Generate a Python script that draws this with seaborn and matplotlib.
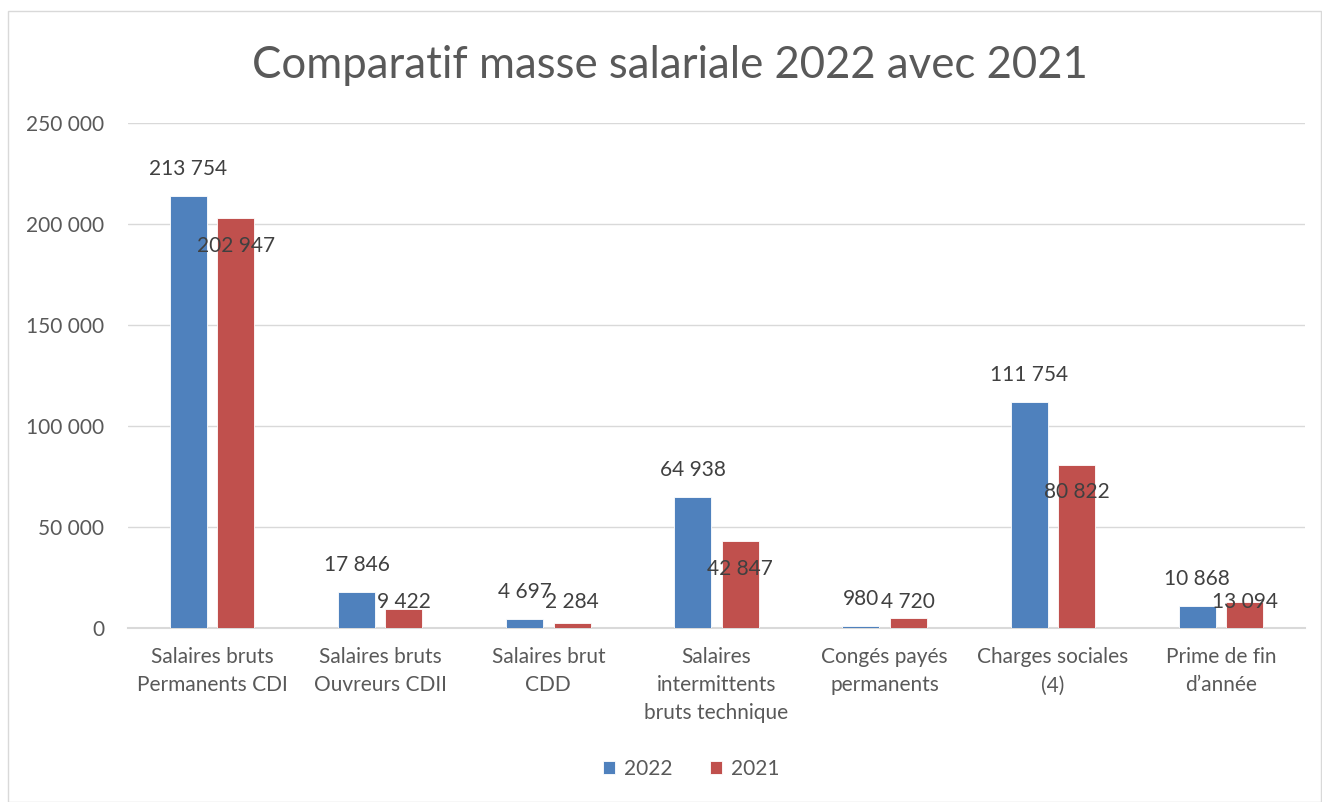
import pandas as pd
import seaborn as sns
import matplotlib.pyplot as plt
from matplotlib.patches import Rectangle

# Data
categories = ["Salaires bruts\nPermanents CDI", "Salaires bruts\nOuvreurs CDII", "Salaires brut\nCDD",
              "Salaires\nintermittents\nbruts technique", "Congés payés\npermanents",
              "Charges sociales\n(4)", "Prime de fin\nd’année"]
values_2022 = [213754, 17846, 4697, 64938, 980, 111754, 10868]
values_2021 = [202947, 9422, 2284, 42847, 4720, 80822, 13094]
years = ["2022", "2021"]
colors = ["#4F81BD", "#C0504D"]

df = pd.DataFrame({
    "cat": categories * 2,
    "year": [years[0]] * len(categories) + [years[1]] * len(categories),
    "val": values_2022 + values_2021,
})

sns.set_theme(style="white")
plt.rcParams['font.family'] = ['Lato', 'DejaVu Sans']

def fmt(v):
    return f"{v:,}".replace(",", " ")

fig = plt.figure(figsize=(13.22, 8.02), dpi=100)
ax = fig.add_axes([128 / 1322, 1 - 628 / 802, (1305 - 128) / 1322, (628 - 123) / 802])
fig.patches.append(Rectangle((8 / 1322, 0), 1 - 9 / 1322, 1 - 11 / 802, transform=fig.transFigure,
                             fill=False, edgecolor="#D9D9D9", lw=1))

sns.barplot(data=df, x="cat", y="val", hue="year", palette=colors, saturation=1, width=0.564, gap=0.22,
            edgecolor="white", linewidth=0.6, ax=ax, zorder=3)

ax.set_ylim(0, 250000)
ax.set_xlim(-0.5, 6.5)
ax.set_yticks(range(0, 250001, 50000))
ax.set_yticklabels([fmt(t) for t in range(0, 250001, 50000)], color="#595959", fontsize=15)
ax.tick_params(axis="x", colors="#595959", labelsize=15, length=0, pad=14)
for lbl in ax.get_xticklabels():
    lbl.set_linespacing(1.5)
ax.tick_params(axis="y", length=0, pad=17)
ax.grid(axis="y", color="#D9D9D9", lw=1, zorder=0)
for s in ["top", "right", "left"]:
    ax.spines[s].set_visible(False)
ax.spines["bottom"].set_color("#D9D9D9")
ax.spines["bottom"].set_linewidth(1.5)
ax.set_xlabel("")
ax.set_ylabel("")

# value labels
for i, v in enumerate(values_2022):
    ax.text(i - 0.141, v + 13300, fmt(v), ha="center", va="center", fontsize=15, color="#404040", zorder=5)
for i, v in enumerate(values_2021):
    ax.text(i + 0.141, max(v - 13600, 13000), fmt(v), ha="center", va="center", fontsize=15,
            color="#404040", zorder=5)

fig.text(670 / 1322, 1 - 65 / 802, "Comparatif masse salariale 2022 avec 2021", ha="center", va="center",
         fontsize=31.5, color="#595959")

ax.legend(loc="center", bbox_to_anchor=((691 - 128) / 1177, (628 - 769) / (628 - 123)), ncol=2,
          frameon=False, fontsize=15, handlelength=0.6, handleheight=0.6, columnspacing=1.8,
          handletextpad=0.4, labelcolor="#595959")

fig.savefig("out.png", dpi=100)
